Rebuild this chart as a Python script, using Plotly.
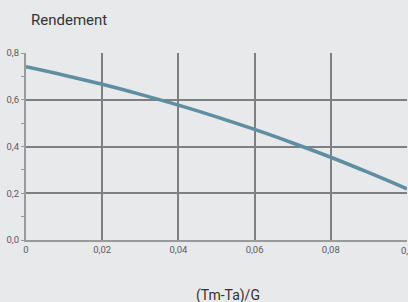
import plotly.graph_objects as go

x_vals = [0, 0.01, 0.02, 0.03, 0.04, 0.05, 0.06, 0.07, 0.08, 0.09, 0.1]
rendement = [0.741, 0.705, 0.666, 0.623, 0.577, 0.527, 0.473, 0.415, 0.354, 0.288, 0.219]
x_ticks = [0, 0.02, 0.04, 0.06, 0.08, 0.1]
x_tick_labels = ["0", "0,02", "0,04", "0,06", "0,08", ""]
x_last_label = "0,1"
y_ticks = [0, 0.2, 0.4, 0.6, 0.8]
y_tick_labels = ["0,0", "0,2", "0,4", "0,6", "0,8"]

fig = go.Figure()
fig.add_trace(go.Scatter(x=x_vals, y=rendement, mode="lines", line=dict(color="#5e8ea1", width=3.5, shape="spline"), hoverinfo="skip"))

fig.update_layout(
    width=408, height=302,
    paper_bgcolor="#e8e9eb", plot_bgcolor="#e8e9eb",
    margin=dict(l=26, r=1, t=53, b=62),
    showlegend=False,
    font=dict(family="Roboto", color="#555555"),
    annotations=[
        dict(text="Rendement", x=0, y=1, xref="paper", yref="paper", xshift=3, yshift=33, xanchor="left", yanchor="middle", showarrow=False, font=dict(size=15, color="#333333")),
        dict(text="(Tm-Ta)/G", x=0.53, y=0, xref="paper", yref="paper", yshift=-55, xanchor="center", yanchor="middle", showarrow=False, font=dict(size=14, color="#333333")),
        dict(text=x_last_label, x=x_ticks[-1], y=0, xref="x", yref="paper", yshift=-10, xanchor="center", yanchor="middle", showarrow=False, font=dict(size=9.5, color="#5a5a5a")),
    ],
)
fig.update_xaxes(range=[0, 0.1], tickvals=x_ticks, ticktext=x_tick_labels, showgrid=True, gridcolor="#7f7f7f", gridwidth=2,
                 zeroline=False, showline=True, linecolor="#9a9a9a", linewidth=2, ticks="", tickfont=dict(size=9.5, color="#5a5a5a"), fixedrange=True)
fig.update_yaxes(range=[0, 0.8], tickvals=y_ticks, ticktext=y_tick_labels, showgrid=True, gridcolor="#7f7f7f", gridwidth=2,
                 zeroline=False, showline=True, linecolor="#9a9a9a", linewidth=2, ticks="outside", ticklen=3, tickcolor="#9a9a9a",
                 tickfont=dict(size=9.5, color="#5a5a5a"), minor=dict(ticks="outside", ticklen=3, tickcolor="#9a9a9a", dtick=0.1, showgrid=False), fixedrange=True)

fig.write_html("out.html", config={"displayModeBar": False},
               post_script="document.body.style.margin='0';document.body.style.background='#e8e9eb';")
